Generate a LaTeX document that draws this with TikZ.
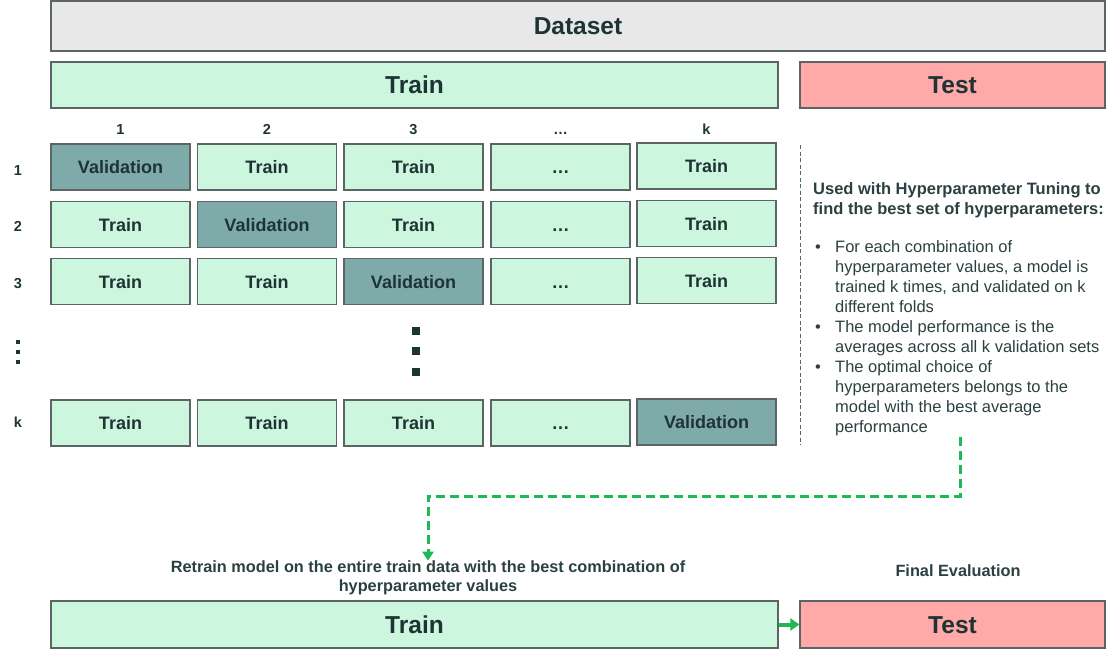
\documentclass[tikz,border=0pt]{standalone}
\usepackage{fontspec}
\setmainfont{Liberation Sans}
\usetikzlibrary{arrows.meta}

\definecolor{trainfill}{HTML}{CCF7DE}
\definecolor{valfill}{HTML}{7FAAAA}
\definecolor{testfill}{HTML}{FFA9A9}
\definecolor{datafill}{HTML}{E8E8E8}
\definecolor{boxline}{HTML}{5B6565}
\definecolor{ink}{HTML}{1E3434}
\definecolor{noteink}{HTML}{2B4040}
\definecolor{arrowgreen}{HTML}{1DB954}

\begin{document}
\begin{tikzpicture}[x=1pt, y=-1pt,
    box/.style={draw=boxline, line width=1.3pt, inner sep=0pt, text=ink, font=\bfseries\fontsize{18}{20}\selectfont, text height=13pt, text depth=0pt, minimum width=139pt, minimum height=46pt},
    trainbox/.style={box, fill=trainfill},
    valbox/.style={box, fill=valfill},
    bigbox/.style={box, font=\bfseries\fontsize{24.5}{26}\selectfont, text height=17.5pt},
    label/.style={text=ink, inner sep=0pt, text height=10.5pt, text depth=0pt, font=\bfseries\fontsize{14.5}{16}\selectfont},
    note/.style={text=noteink, inner sep=0pt, align=center, font=\bfseries\fontsize{16.3}{19}\selectfont},
    vdot/.style={fill=ink, inner sep=0pt, minimum size=#1}]
    \useasboundingbox (0,0) rectangle (1110,650);

    % top split
    \node[bigbox, fill=datafill, minimum width=1054pt, minimum height=50pt] (dataset) at (578,26) {Dataset};
    \node[bigbox, fill=trainfill, minimum width=727pt] (train) at (414.5,85) {Train};
    \node[bigbox, fill=testfill, minimum width=305pt] (test) at (952.5,85) {Test};

    % fold numbers
    \node[label] (c1) at (120.5,129) {1};
    \node[label] (c2) at (267,129) {2};
    \node[label] (c3) at (413.5,129) {3};
    \node[label] (c4) at (560.5,129) {\dots};
    \node[label] (c5) at (706.5,129) {k};
    \node[label] (r1) at (18,170) {1};
    \node[label] (r2) at (18,226) {2};
    \node[label] (r3) at (18,283) {3};
    \node[label] (rk) at (18,422) {k};

    % folds
    \node[valbox] (f11) at (120.5,167) {Validation};
    \node[trainbox] (f12) at (267,167) {Train};
    \node[trainbox] (f13) at (413.5,167) {Train};
    \node[trainbox] (f14) at (560.5,167) {\dots};
    \node[trainbox] (f15) at (706.5,166) {Train};
    \node[trainbox] (f21) at (120.5,224.5) {Train};
    \node[valbox] (f22) at (267,224.5) {Validation};
    \node[trainbox] (f23) at (413.5,224.5) {Train};
    \node[trainbox] (f24) at (560.5,224.5) {\dots};
    \node[trainbox] (f25) at (706.5,223.5) {Train};
    \node[trainbox] (f31) at (120.5,281.5) {Train};
    \node[trainbox] (f32) at (267,281.5) {Train};
    \node[valbox] (f33) at (413.5,281.5) {Validation};
    \node[trainbox] (f34) at (560.5,281.5) {\dots};
    \node[trainbox] (f35) at (706.5,280.5) {Train};
    \node[trainbox] (fk1) at (120.5,423) {Train};
    \node[trainbox] (fk2) at (267,423) {Train};
    \node[trainbox] (fk3) at (413.5,423) {Train};
    \node[trainbox] (fk4) at (560.5,423) {\dots};
    \node[valbox] (fk5) at (706.5,422) {Validation};

    % vertical dots
    \node[vdot=8pt] (d1) at (416,331) {};
    \node[vdot=8pt] (d2) at (416,351) {};
    \node[vdot=8pt] (d3) at (416,372) {};
    \node[vdot=4.5pt] (e1) at (18,342) {};
    \node[vdot=4.5pt] (e2) at (18,352) {};
    \node[vdot=4.5pt] (e3) at (18,362) {};

    % side note
    \draw[boxline, line width=1pt, dash pattern=on 4pt off 2.5pt] (800,145) -- (800,445);
    \node[text=noteink, inner sep=0pt, anchor=north west, align=left, font=\bfseries\fontsize{16.5}{20}\selectfont] (tuning) at (813,182)
        {Used with Hyperparameter Tuning to\\find the best set of hyperparameters:};
    \node[text=noteink, inner sep=0pt, anchor=north west, font=\fontsize{16.5}{20}\selectfont] (steps) at (813,238) {%
        \begin{tabular}{@{}p{22pt}@{}l@{}}
        \hspace{2pt}\textbullet & For each combination of\\
        & hyperparameter values, a model is\\
        & trained k times, and validated on k\\
        & different folds\\
        \hspace{2pt}\textbullet & The model performance is the\\
        & averages across all k validation sets\\
        \hspace{2pt}\textbullet & The optimal choice of\\
        & hyperparameters belongs to the\\
        & model with the best average\\
        & performance
        \end{tabular}};

    % final fit
    \node[note] (retrain) at (428,578) {Retrain model on the entire train data with the best combination of\\hyperparameter values};
    \node[note] (final) at (958,571) {Final Evaluation};
    \node[bigbox, fill=trainfill, minimum width=727pt, minimum height=47pt] (trainall) at (414.5,624.5) {Train};
    \node[bigbox, fill=testfill, minimum width=305pt, minimum height=47pt] (testall) at (952.5,624.5) {Test};

    \coordinate (hpstart) at (960,437);
    \coordinate (bend) at (960,496);
    \draw[arrowgreen, line width=3pt, dash pattern=on 9pt off 5pt, -{Triangle[width=11pt, length=9pt]}]
        (hpstart) -- (bend) -| (retrain.north);
    \draw[arrowgreen, line width=4pt, -{Triangle[width=12pt, length=9pt]}] (trainall) -- (testall);
\end{tikzpicture}
\end{document}
